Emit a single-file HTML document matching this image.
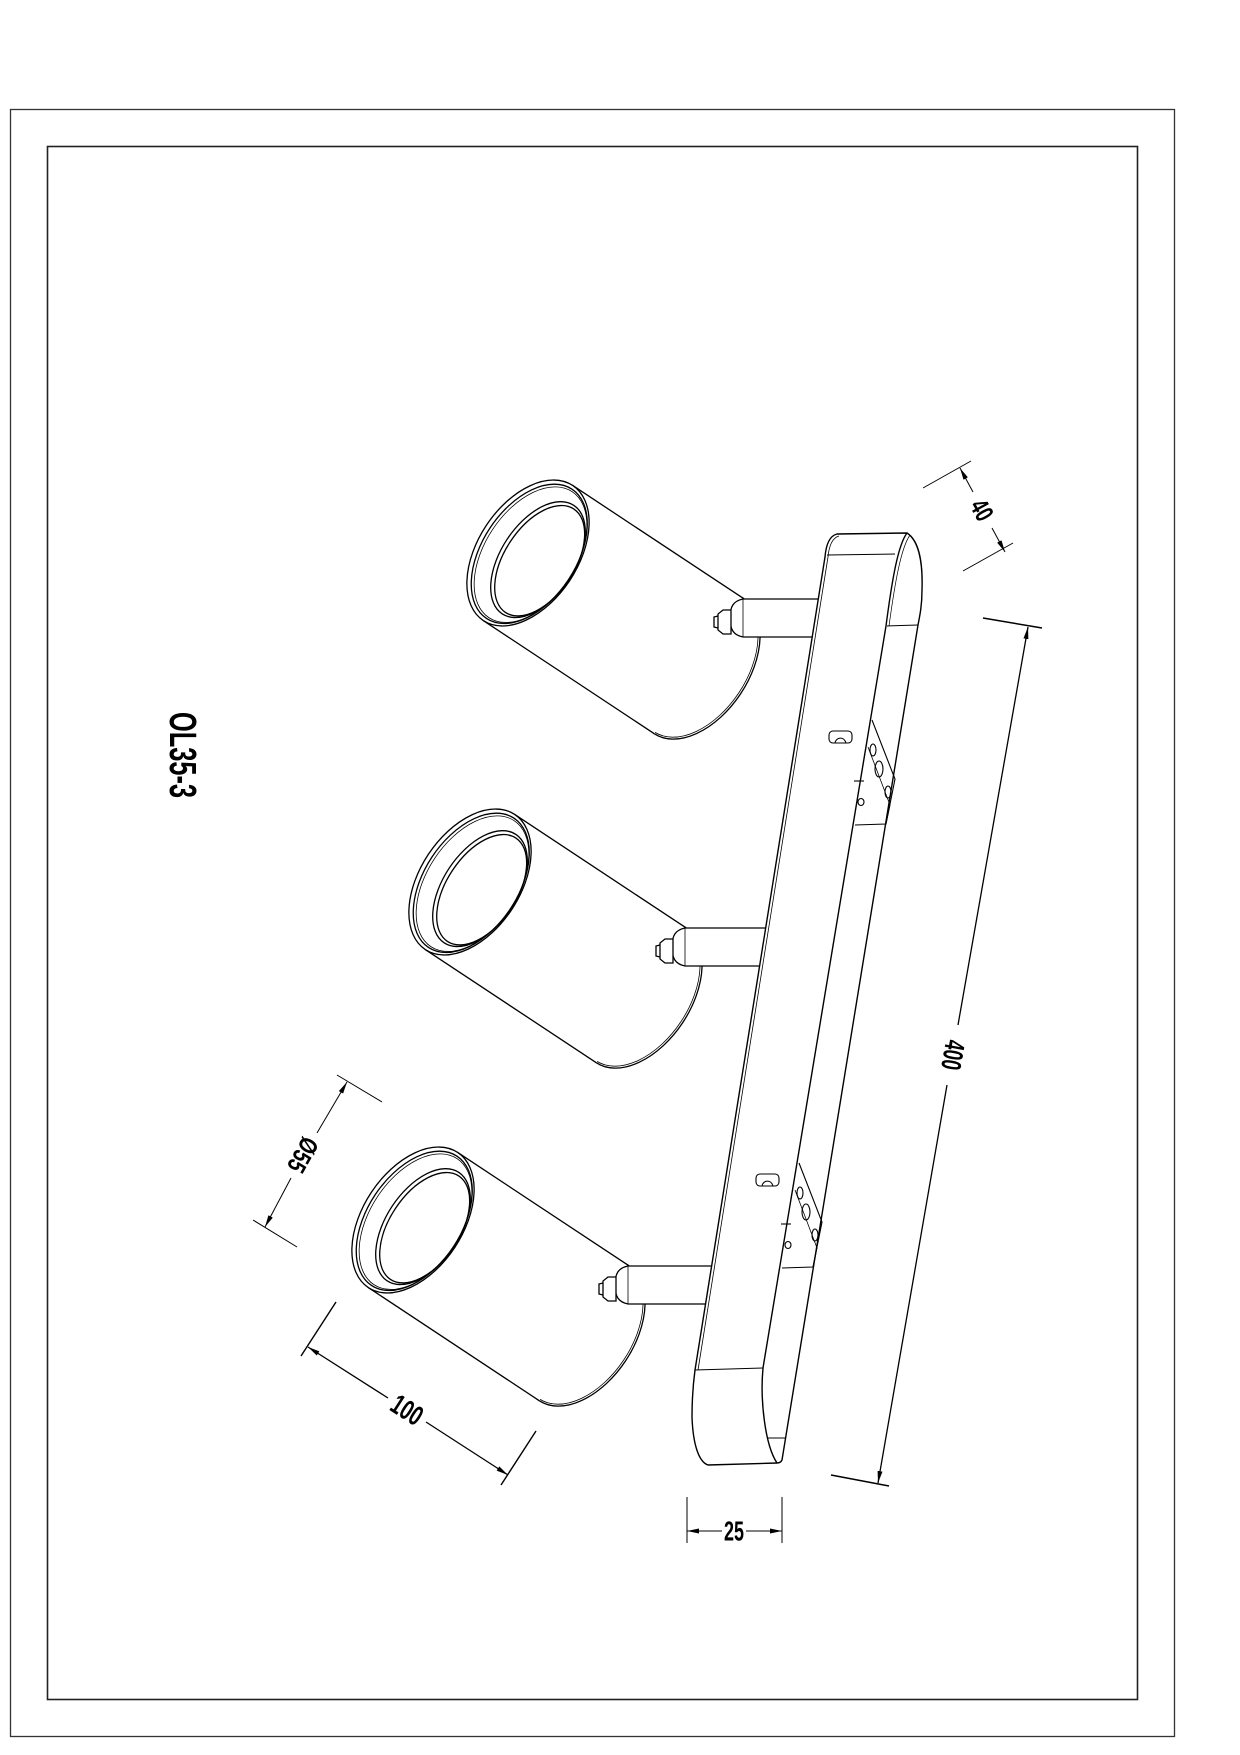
<!DOCTYPE html>
<html><head><meta charset="utf-8"><style>
html,body{margin:0;padding:0;background:#fff;}
svg{display:block;}
text{font-family:"Liberation Sans Narrow","Liberation Sans",sans-serif;font-weight:bold;fill:#000;}
</style></head><body>
<svg width="1240" height="1755" viewBox="0 0 1240 1755" xmlns="http://www.w3.org/2000/svg">
<defs>
<marker id="ar" viewBox="0 0 12 6" refX="12" refY="3" markerWidth="12" markerHeight="6" markerUnits="userSpaceOnUse" orient="auto-start-reverse">
<path d="M0,0.5 L12,3 L0,5.5 Z" fill="#000"/>
</marker>
<g id="lamp" fill="#fff" stroke="#000" stroke-width="1.3">
 <g transform="rotate(33.5)">
  <ellipse cx="205" cy="0" rx="50" ry="81"/>
  <ellipse cx="204" cy="0" rx="49" ry="79.5" fill="none" stroke-width="0.8"/>
  <rect x="0" y="-81" width="205" height="162" stroke="none"/>
  <line x1="0" y1="-81" x2="205" y2="-81"/>
  <line x1="0" y1="81" x2="205" y2="81"/>
 </g>
 <path d="M215,46 L305,46 L305,84 L215,84 C205,82 202,76 202,65 C202,54 205,48 215,46 Z"/>
 <line x1="215" y1="46" x2="215" y2="84" stroke-width="0.8"/>
 <path d="M203,57 L195,57 L190,61 L190,77 L195,81 L203,81 Z"/>
 <path d="M190,63 L186,64 L186,74 L190,75" fill="none"/>
 <g transform="rotate(33.5)">
  <ellipse cx="0" cy="0" rx="50" ry="81"/>
  <ellipse cx="1.5" cy="0" rx="47" ry="77.5" fill="none"/>
  <ellipse cx="3" cy="0" rx="45.5" ry="75.5" fill="none" stroke-width="0.8"/>
  <ellipse cx="12" cy="0" rx="37" ry="65" fill="none"/>
  <ellipse cx="14" cy="0" rx="35" ry="62" fill="none"/>
 </g>
</g>
</defs>

<!-- borders -->
<rect x="10.5" y="109.5" width="1164" height="1627" fill="none" stroke="#333" stroke-width="1.3"/>
<rect x="47.5" y="146.5" width="1090" height="1553" fill="none" stroke="#222" stroke-width="1.6"/>

<!-- title -->
<text x="0" y="0" font-size="38" transform="translate(182,755) rotate(90)" text-anchor="middle" dominant-baseline="central" textLength="86" lengthAdjust="spacingAndGlyphs">OL35-3</text>

<!-- lamps -->
<use href="#lamp" x="528" y="553"/>
<use href="#lamp" x="470" y="882"/>
<use href="#lamp" x="413" y="1220"/>

<!-- bar -->
<g fill="none" stroke="#000" stroke-width="1.4">
 <path fill="#fff" d="M825,557 C826,545 829,536 837,534 L907,533 C918,540 923,560 922,590 C922,605 920,615 918,625 L782,1460 C781,1462 779,1463 777,1463 L708,1465 C699,1462 693,1445 692,1417 C692,1400 693,1385 695,1370 Z"/>
 <path d="M828,557 C829,546 832,538 839,536" stroke-width="0.8"/>
 <line x1="828" y1="557" x2="698" y2="1370" stroke-width="0.8"/>
 <path d="M907,533 C898,545 892,580 886,626 L763,1368 C760,1400 765,1445 777,1463"/>
 <path d="M910,535 C901,548 895,582 889,626" stroke-width="0.7"/>
 <line x1="827" y1="555" x2="895" y2="554" stroke-width="1"/>
 <line x1="887" y1="626" x2="918" y2="625" stroke-width="1"/>
 <line x1="695" y1="1370" x2="763" y2="1368" stroke-width="1"/>
 <line x1="767" y1="1438" x2="785" y2="1438" stroke-width="1"/>
</g>

<!-- brackets & slots -->
<g fill="none" stroke="#000" stroke-width="1.1">
 <g id="brk">
  <path d="M799,1163 L822,1222 L813,1267 L782,1268"/>
  <path d="M795,1190 L817,1248 L813,1267" stroke-width="0.8"/>
  <ellipse cx="800" cy="1193" rx="3" ry="6"/>
  <ellipse cx="806" cy="1212" rx="4" ry="8"/>
  <ellipse cx="815" cy="1235" rx="3" ry="6"/>
  <line x1="781" y1="1224" x2="791" y2="1224"/>
  <ellipse cx="788" cy="1245" rx="3" ry="3.5"/>
  <rect x="756" y="1174" width="23" height="12" rx="4"/>
  <path d="M762,1186 C763,1180 771,1179 773,1186"/>
 </g>
 <use href="#brk" x="73" y="-443"/>
</g>

<!-- dimensions -->
<g stroke="#000" stroke-width="1" fill="none">
 <line x1="923" y1="488" x2="971" y2="461"/>
 <line x1="963" y1="571" x2="1013" y2="543"/>
 <line x1="973" y1="492" x2="960" y2="468" marker-end="url(#ar)"/>
 <line x1="992" y1="528" x2="1005" y2="552" marker-end="url(#ar)"/>
 <line x1="983" y1="618" x2="1042" y2="628" stroke-width="1.5"/>
 <line x1="831" y1="1475" x2="889" y2="1486" stroke-width="1.5"/>
 <line x1="958" y1="1025" x2="1028" y2="627" stroke-width="1.3" marker-end="url(#ar)"/>
 <line x1="947" y1="1085" x2="878" y2="1483" stroke-width="1.3" marker-end="url(#ar)"/>
 <line x1="337" y1="1075" x2="382" y2="1102"/>
 <line x1="253" y1="1220" x2="297" y2="1247"/>
 <line x1="317" y1="1133" x2="347" y2="1082" marker-end="url(#ar)"/>
 <line x1="291" y1="1178" x2="265" y2="1227" marker-end="url(#ar)"/>
 <line x1="336" y1="1302" x2="301" y2="1356" stroke-width="1.4"/>
 <line x1="536" y1="1431" x2="501" y2="1485" stroke-width="1.4"/>
 <line x1="388" y1="1398" x2="308" y2="1347" stroke-width="1.3" marker-end="url(#ar)"/>
 <line x1="426" y1="1422" x2="508" y2="1475" stroke-width="1.3" marker-end="url(#ar)"/>
 <line x1="687" y1="1497" x2="687" y2="1543"/>
 <line x1="782" y1="1497" x2="782" y2="1543"/>
 <line x1="722" y1="1531" x2="687" y2="1531" marker-end="url(#ar)"/>
 <line x1="746" y1="1531" x2="782" y2="1531" marker-end="url(#ar)"/>
</g>
<text x="0" y="0" font-size="26" transform="translate(982,510) rotate(61)" text-anchor="middle" dominant-baseline="central" font-weight="normal" textLength="20" lengthAdjust="spacingAndGlyphs">40</text>
<text x="0" y="0" font-size="28" transform="translate(953,1055) rotate(100)" text-anchor="middle" dominant-baseline="central" textLength="30" lengthAdjust="spacingAndGlyphs">400</text>
<text x="0" y="0" font-size="26" transform="translate(303,1155) rotate(119)" text-anchor="middle" dominant-baseline="central" font-weight="normal" textLength="36" lengthAdjust="spacingAndGlyphs">Ø55</text>
<text x="0" y="0" font-size="28" transform="translate(407,1410) rotate(32.6)" text-anchor="middle" dominant-baseline="central" textLength="32" lengthAdjust="spacingAndGlyphs">100</text>
<text x="734" y="1531" font-size="28" text-anchor="middle" dominant-baseline="central" textLength="20" lengthAdjust="spacingAndGlyphs">25</text>
</svg>
</body></html>
